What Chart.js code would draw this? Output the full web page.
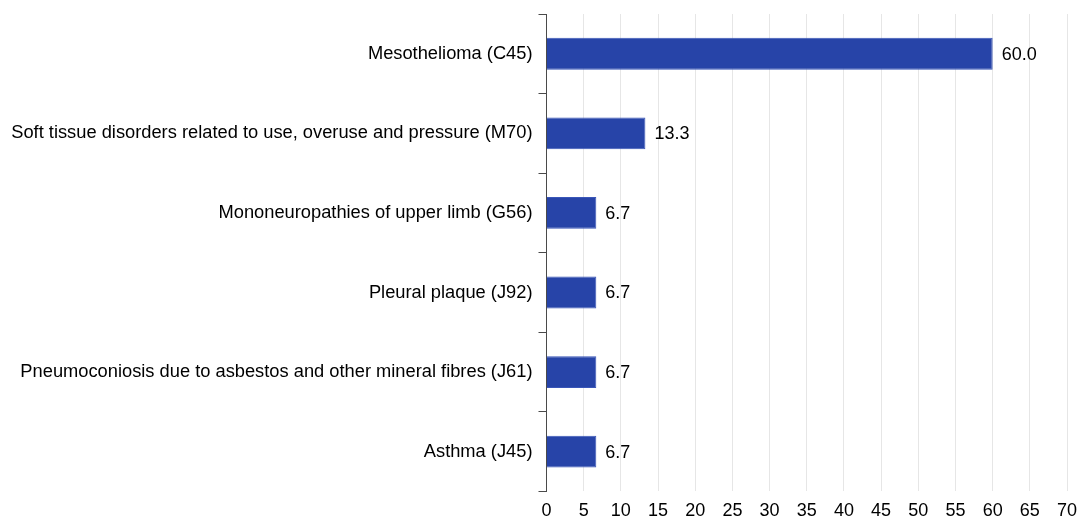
<!DOCTYPE html>
<html>
<head>
<meta charset="utf-8">
<script src="https://cdn.jsdelivr.net/npm/chart.js@4"></script>
<style>
  body { margin: 0; background: #fff; }
  #wrap { width: 1082px; height: 521px; }
</style>
</head>
<body>
<div id="wrap"><canvas id="myChart"></canvas></div>
<script>
var categories = [
    'Mesothelioma (C45)',
    'Soft tissue disorders related to use, overuse and pressure (M70)',
    'Mononeuropathies of upper limb (G56)',
    'Pleural plaque (J92)',
    'Pneumoconiosis due to asbestos and other mineral fibres (J61)',
    'Asthma (J45)'
];
var values = [60.0, 13.3, 6.7, 6.7, 6.7, 6.7];
var xTicks = [0, 5, 10, 15, 20, 25, 30, 35, 40, 45, 50, 55, 60, 65, 70];

Chart.defaults.font.family = "'Liberation Sans', Arial, sans-serif";
Chart.defaults.font.size = 18;
Chart.defaults.color = '#000';

// labels at the end of each bar
var valueLabels = {
    id: 'valueLabels',
    afterDatasetsDraw: function (chart) {
        var ctx = chart.ctx;
        var meta = chart.getDatasetMeta(0);
        ctx.save();
        ctx.font = "18px 'Liberation Sans', Arial, sans-serif";
        ctx.fillStyle = '#000';
        ctx.textBaseline = 'middle';
        meta.data.forEach(function (bar, i) {
            ctx.fillText(values[i].toFixed(1), bar.x + 9, bar.y + 1);
        });
        ctx.restore();
    }
};

var ctx = document.getElementById('myChart').getContext('2d');
var myChart = new Chart(ctx, {
    type: 'bar',
    data: {
        labels: categories,
        datasets: [{
            data: values,
            backgroundColor: '#2744a8',
            borderColor: '#3a56b8',
            borderWidth: 1,
            barPercentage: 0.8,
            categoryPercentage: 0.5
        }]
    },
    options: {
        indexAxis: 'y',
        responsive: true,
        maintainAspectRatio: false,
        animation: false,
        layout: { padding: { top: 14, right: 0, bottom: -10, left: 11 } },
        plugins: {
            legend: { display: false },
            tooltip: { enabled: false }
        },
        scales: {
            x: {
                min: 0,
                max: 70,
                afterBuildTicks: function (axis) {
                    axis.ticks = xTicks.map(function (v) { return { value: v }; });
                },
                afterFit: function (axis) {
                    axis.paddingRight = 15;
                },
                border: { display: false },
                grid: { color: '#e6e6e6', drawTicks: false },
                ticks: { padding: 9, maxRotation: 0, autoSkip: false }
            },
            y: {
                afterFit: function (axis) {
                    axis.paddingTop = 0;
                },
                border: { display: true, color: '#4a4a4a', width: 1 },
                grid: { drawOnChartArea: false, color: '#4a4a4a', tickLength: 8, offset: true },
                ticks: { padding: 6, autoSkip: false, font: { size: 18.3 } }
            }
        }
    },
    plugins: [valueLabels]
});
</script>
</body>
</html>
